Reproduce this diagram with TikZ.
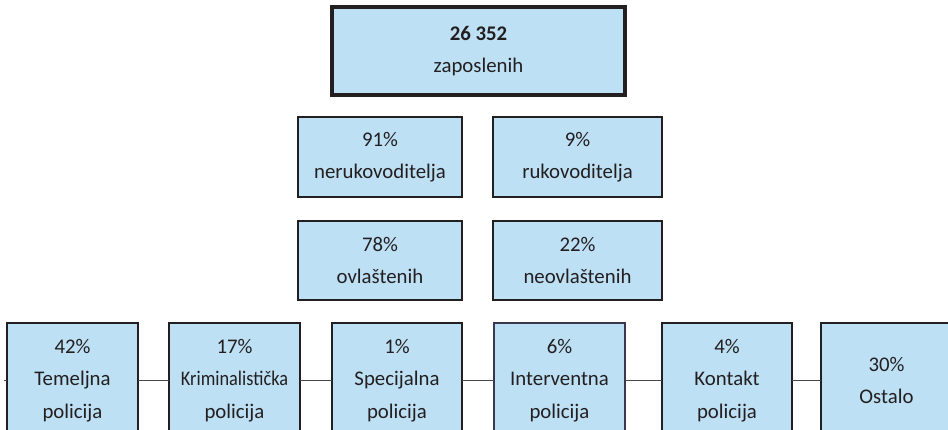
\documentclass[tikz,border=0pt]{standalone}
\usepackage{fontspec}
\setmainfont{Carlito}
\usepackage{graphicx}
\definecolor{boxfill}{RGB}{189,224,245}
\definecolor{boxline}{RGB}{35,31,32}
\definecolor{boxline2}{RGB}{58,56,76}
\definecolor{txt}{RGB}{35,31,32}
\definecolor{conn}{RGB}{70,70,70}
\tikzset{
  orgbox/.style={draw=boxline, fill=boxfill, line width=2.8pt, inner sep=0pt, outer sep=0pt,
    align=center, text=txt, font=\fontsize{20.8}{32.5}\selectfont},
  link/.style={draw=conn, line width=1.2pt}
}
\begin{document}
\begin{tikzpicture}[x=1pt, y=-1pt]
\useasboundingbox (0,0) rectangle (948,430);
\clip (0,0) rectangle (948,430);
\fill[white] (0,0) rectangle (948,430);
% connector line behind the bottom boxes
\coordinate (lstub) at (4,380.5);
% bottom row
\node[orgbox, minimum width=131pt, minimum height=115pt] (b1) at (72.5,380.5) {42\%\\Temeljna\\policija};
\node[orgbox, minimum width=131pt, minimum height=115pt] (b2) at (234.5,380.5) {17\%\\\scalebox{0.88}[1]{Kriminalistička}\\policija};
\node[orgbox, minimum width=130pt, minimum height=115pt] (b3) at (397,380.5) {1\%\\Specijalna\\policija};
\node[orgbox, draw=boxline2, minimum width=131pt, minimum height=115pt] (b4) at (559.5,380.5) {6\%\\Interventna\\policija};
\node[orgbox, minimum width=130pt, minimum height=115pt] (b5) at (727,380.5) {4\%\\Kontakt\\policija};
\node[orgbox, minimum width=131pt, minimum height=115pt] (b6) at (886.5,380.5) {30\%\\Ostalo};
\draw[link] (lstub) -- (b1.west);
\draw[link] (b1.east) -- (b2.west);
\draw[link] (b2.east) -- (b3.west);
\draw[link] (b3.east) -- (b4.west);
\draw[link] (b4.east) -- (b5.west);
\draw[link] (b5.east) -- (b6.west);
% top
\node[orgbox, line width=3.2pt, minimum width=293pt, minimum height=88pt] (top) at (478.5,51) {\textbf{26 352}\\zaposlenih};
% row 2
\node[orgbox, minimum width=164pt, minimum height=80pt] (nr) at (380,157) {91\%\\nerukovoditelja};
\node[orgbox, minimum width=169pt, minimum height=80pt] (rk) at (577.5,157) {9\%\\rukovoditelja};
% row 3
\node[orgbox, minimum width=164pt, minimum height=79pt] (ov) at (380,260.5) {78\%\\ovlaštenih};
\node[orgbox, minimum width=169pt, minimum height=79pt] (nov) at (577.5,260.5) {22\%\\neovlaštenih};
\end{tikzpicture}
\end{document}
